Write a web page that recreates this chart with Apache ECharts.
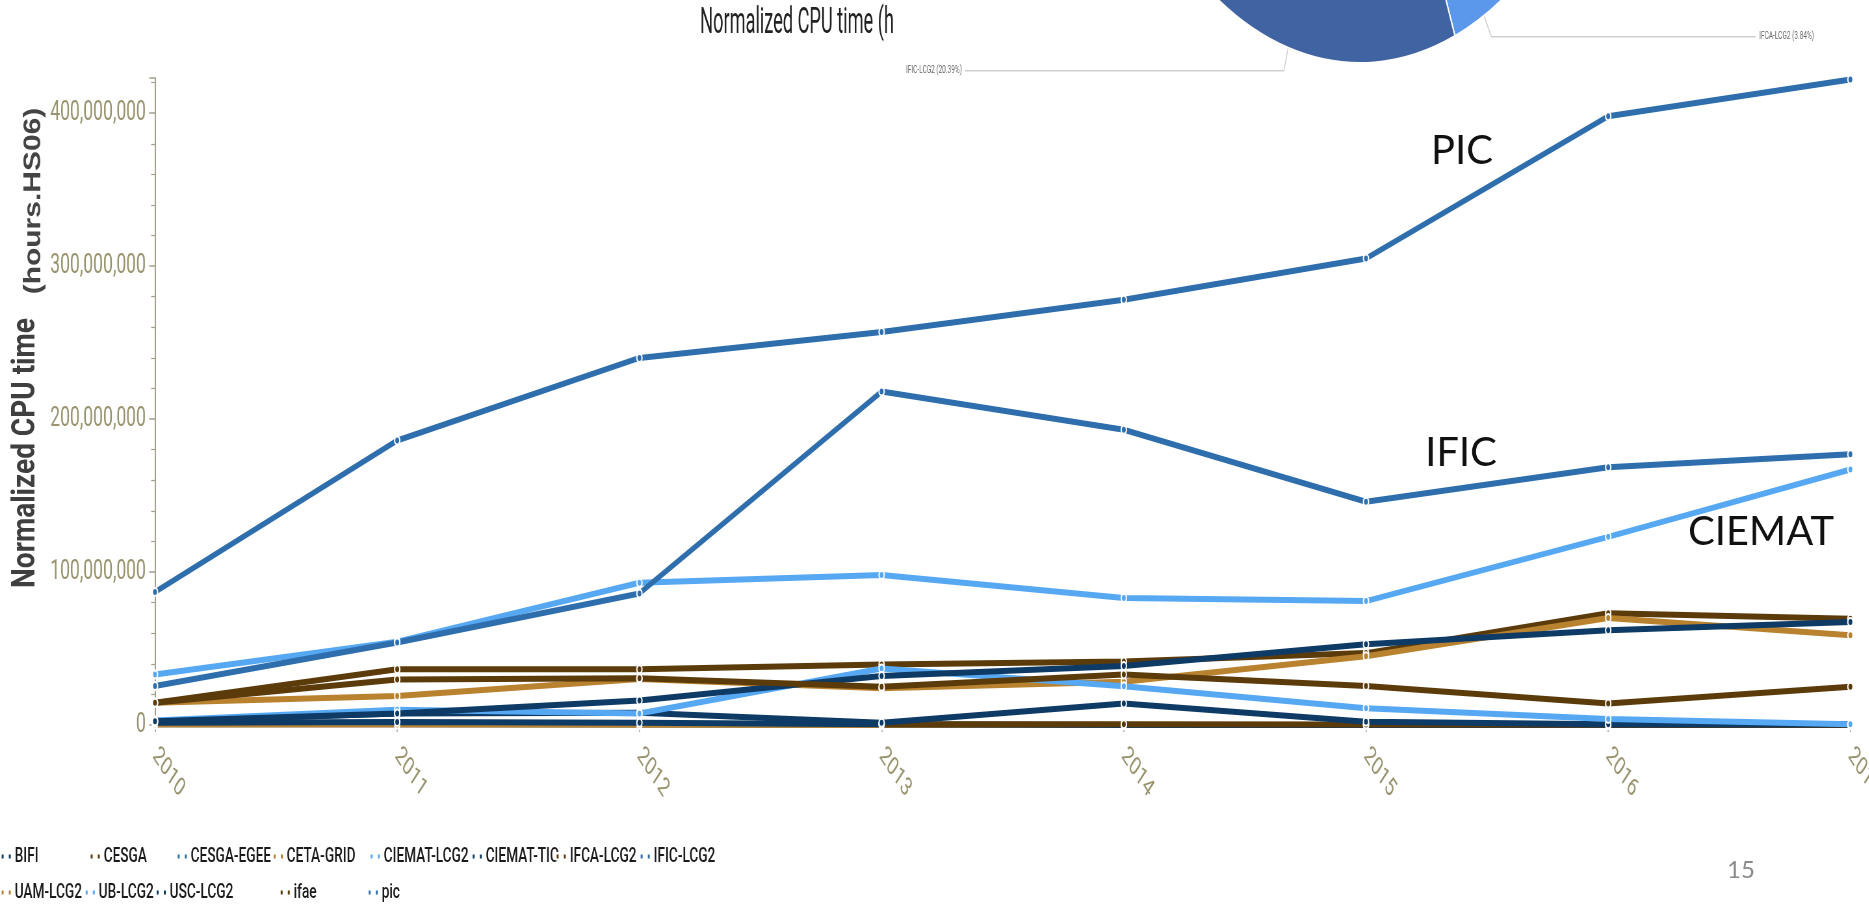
<!DOCTYPE html>
<html><head><meta charset="utf-8">
<script src="https://cdn.jsdelivr.net/npm/echarts@6/dist/echarts.min.js"></script>
<style>
html,body{margin:0;padding:0;background:#fff;overflow:hidden;width:1869px;height:908px}
#c{width:2876px;height:908px;transform:scaleX(0.65);transform-origin:0 0}
</style>
</head><body><div id="c"></div>
<script>
// ---- data ----
const years = ['2010','2011','2012','2013','2014','2015','2016','2017'];
const BIFI        = [1.5e6, 2e6, 1.5e6, 0.5e6, 0, 0, 0, 0];
const CESGA       = [null, null, null, 0.5e6, 0.5e6, 0.3e6, 0.2e6, 0.2e6];
const CESGA_EGEE  = [0.5e6, 0.5e6, 0.3e6, 0, 0, 0, 0, 0];
const CETA_GRID   = [0.3e6, 0.3e6, 0.2e6, 0, 0, 0, 0, 0];
const CIEMAT_LCG2 = [33e6, 54.5e6, 93e6, 98e6, 83e6, 81e6, 123e6, 167e6];
const CIEMAT_TIC  = [2.5e6, 7.5e6, 8e6, 1.5e6, 14e6, 2.2e6, 0.5e6, 0.5e6];
const IFCA_LCG2   = [14.5e6, 36.5e6, 36.5e6, 39.5e6, 41.5e6, 47e6, 73e6, 69.5e6];
const IFIC_LCG2   = [25.5e6, 54e6, 86e6, 218e6, 193e6, 146e6, 168.5e6, 177e6];
const UAM_LCG2    = [14.5e6, 19e6, 30e6, 24e6, 28.3e6, 45e6, 70e6, 58.7e6];
const UB_LCG2     = [3e6, 10e6, 7.5e6, 37e6, 25.4e6, 11e6, 4e6, 0.5e6];
const USC_LCG2    = [2.5e6, 7.5e6, 16e6, 32e6, 38.5e6, 52.8e6, 62e6, 67.4e6];
const ifae        = [14.5e6, 29.8e6, 30.5e6, 25e6, 33e6, 25.5e6, 14e6, 25e6];
const pic         = [87e6, 186e6, 240e6, 257e6, 278e6, 305e6, 398e6, 422e6];
const seriesNames = ['BIFI','CESGA','CESGA-EGEE','CETA-GRID','CIEMAT-LCG2','CIEMAT-TIC','IFCA-LCG2','IFIC-LCG2','UAM-LCG2','UB-LCG2','USC-LCG2','ifae','pic'];
const seriesValues = [BIFI, CESGA, CESGA_EGEE, CETA_GRID, CIEMAT_LCG2, CIEMAT_TIC, IFCA_LCG2, IFIC_LCG2, UAM_LCG2, UB_LCG2, USC_LCG2, ifae, pic];
const pieNames = ['IFCA-LCG2', 'IFIC-LCG2', 'Other'];
const pieShares = [3.84, 20.39, 75.77];

// ---- style ----
// The reference picture is horizontally squeezed; the chart is drawn wide and squeezed with CSS.
const S = 0.65;
const fx = v => v / S;   // final-pixel x -> chart x
const NAVY = '#0e3a66', BROWN = '#5c3b0b', BLUE = '#2e6ead', GOLD = '#b8822f', LIGHT = '#56a8f2';
const colors = [NAVY, BROWN, BLUE, GOLD, LIGHT, NAVY, BROWN, BLUE, GOLD, LIGHT, NAVY, BROWN, BLUE];
const FONT = "Roboto, 'Liberation Sans', sans-serif";
const AXIS = '#a3a08a';
const LABEL = '#99946f';
const underlaid = { 'CESGA-EGEE': 1, 'CETA-GRID': 1 };

// legend: final-pixel x where each item's text starts, and row centre y
const legendText = {
  'BIFI':[14,859], 'CESGA':[103,859], 'CESGA-EGEE':[190,859], 'CETA-GRID':[286,859],
  'CIEMAT-LCG2':[383,859], 'CIEMAT-TIC':[485,859], 'IFCA-LCG2':[569,859], 'IFIC-LCG2':[653,859],
  'UAM-LCG2':[14,895], 'UB-LCG2':[98,895], 'USC-LCG2':[169,895], 'ifae':[293,895], 'pic':[381,895]
};
const legends = seriesNames.map(n => ({
  data: [n], left: fx(legendText[n][0]) - 21, top: legendText[n][1] - 13, orient: 'horizontal',
  padding: 0,
  icon: 'path://M0,0h5v6h-5zM11,0h5v6h-5z', itemWidth: 16, itemHeight: 7, itemGap: 0,
  textStyle: { fontFamily: FONT, fontSize: 21, fontWeight: 500, color: '#1a1a1a' },
  selectedMode: false
}));

const lineSeries = seriesNames.map((n, i) => ({
  name: n, type: 'line', data: seriesValues[i], color: colors[i],
  lineStyle: { width: 6, color: colors[i] },
  symbol: 'circle', symbolSize: 8, showSymbol: true,
  itemStyle: { color: colors[i], borderColor: '#fff', borderWidth: 2 },
  emphasis: { disabled: true }, z: underlaid[n] ? 2 : 3
}));

const pieLeft = fx(906) - 10, pieRight = 2876 - (fx(1814) + 10);
const pieSeries = {
  type: 'pie', left: pieLeft, right: pieRight, top: 0, bottom: 0,
  center: [fx(1360) - pieLeft, -345], radius: 408, startAngle: -55.2, clockwise: true,
  silent: true, z: 1,
  data: pieNames.map((n, i) => ({
    name: n, value: pieShares[i],
    itemStyle: { color: ['#5b97eb', '#4063a1', '#4a6cab'][i] },
    label: { show: i < 2 }, labelLine: { show: i < 2 }
  })),
  itemStyle: { borderColor: '#fff', borderWidth: 2 },
  label: { position: 'outside', alignTo: 'edge', edgeDistance: 10, formatter: '{b} ({d}%)',
    fontFamily: FONT, fontSize: 10, color: '#666' },
  labelLine: { length: 24, length2: 10, lineStyle: { color: '#cfcfcf', width: 1.5 } }
};

const chart = echarts.init(document.getElementById('c'), null, { renderer: 'canvas' });
chart.setOption({
  backgroundColor: '#fff',
  animation: false,
  legend: legends,
  grid: { left: fx(155), right: fx(19), top: 78, bottom: 183, containLabel: false, outerBoundsMode: 'none' },
  xAxis: {
    type: 'category', data: years, boundaryGap: false,
    axisLine: { lineStyle: { color: AXIS, width: 2 } },
    axisTick: { show: true, alignWithLabel: true, length: 7, lineStyle: { color: AXIS, width: 1.5 } },
    axisLabel: { rotate: -45, margin: 27, color: LABEL, fontFamily: FONT, fontSize: 26 },
    splitLine: { show: false }
  },
  yAxis: {
    type: 'value', min: 0, max: 423000000, interval: 100000000,
    axisLine: { show: true, lineStyle: { color: AXIS, width: 2 } },
    axisTick: { show: true, length: 9, lineStyle: { color: AXIS, width: 1.5 } },
    minorTick: { show: true, splitNumber: 5, length: 6, lineStyle: { color: AXIS, width: 1.2 } },
    axisLabel: { margin: 14, color: LABEL, fontFamily: FONT, fontSize: 27, showMaxLabel: false,
      formatter: v => v.toLocaleString('en-US') },
    splitLine: { show: false }
  },
  series: [pieSeries].concat(lineSeries),
  graphic: [
    { type: 'text', x: fx(797), y: 24, scaleY: 1.35, style: { text: 'Normalized CPU time (h', font: "28px Roboto, 'Liberation Sans', sans-serif", fill: '#222', align: 'center', verticalAlign: 'middle' } },
    { type: 'text', x: fx(26), y: 453, rotation: Math.PI/2, scaleY: 1.8, style: { text: 'Normalized CPU time', font: "bold 28px Roboto, 'Liberation Sans', sans-serif", fill: '#3f3f3f', align: 'center', verticalAlign: 'middle' } },
    { type: 'text', x: fx(34), y: 201, rotation: Math.PI/2, scaleY: 1.2, style: { text: '(hours.HS06)', font: "bold 30px 'Liberation Sans', Arial, sans-serif", fill: '#444', align: 'center', verticalAlign: 'middle' } },
    { type: 'text', x: fx(1462), y: 151, scaleX: 1/S, style: { text: 'PIC', font: "40px Lato, 'Open Sans', sans-serif", fill: '#111', align: 'center', verticalAlign: 'middle' } },
    { type: 'text', x: fx(1461), y: 453, scaleX: 1/S, style: { text: 'IFIC', font: "40px Lato, 'Open Sans', sans-serif", fill: '#111', align: 'center', verticalAlign: 'middle' } },
    { type: 'text', x: fx(1761), y: 532, scaleX: 1/S, style: { text: 'CIEMAT', font: "40px Lato, 'Open Sans', sans-serif", fill: '#111', align: 'center', verticalAlign: 'middle' } },
    { type: 'text', x: fx(1741), y: 870, scaleX: 1/S, style: { text: '15', font: "24px Lato, 'Open Sans', sans-serif", fill: '#8a8a8a', align: 'center', verticalAlign: 'middle' } }
  ]
});
</script></body></html>
